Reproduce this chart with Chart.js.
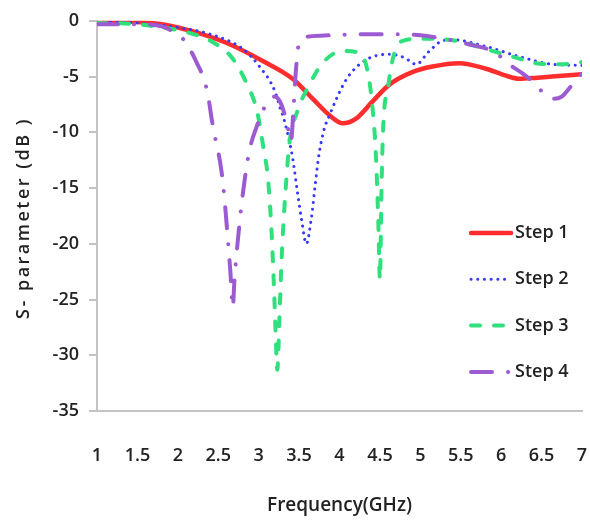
<!DOCTYPE html>
<html>
<head>
<meta charset="utf-8">
<script src="https://cdn.jsdelivr.net/npm/chart.js@4.4.1/dist/chart.umd.min.js"></script>
<style>
  html, body { margin: 0; padding: 0; background: #fff; }
</style>
</head>
<body>
<canvas id="chart" width="590" height="525"></canvas>
<script>
// values (GHz / dB)
const step1Freq = [1, 1.5, 1.8, 2.0, 2.3, 2.64, 3.05, 3.42, 3.67, 3.88, 4.04, 4.2, 4.4, 4.62, 4.9, 5.15, 5.48, 5.81, 6.05, 6.22, 6.45, 6.63, 7.0];
const step1Db   = [0, -0.1, -0.3, -0.6, -1.2, -2.1, -3.6, -5.2, -7.0, -8.5, -9.2, -8.8, -7.3, -5.7, -4.6, -4.1, -3.8, -4.3, -4.9, -5.2, -5.1, -5.0, -4.8];

const step2Freq = [1, 1.5, 2.0, 2.4, 2.8, 3.0, 3.2, 3.26, 3.32, 3.42, 3.48, 3.53, 3.59, 3.65, 3.7, 3.74, 3.8, 3.88, 4.09, 4.33, 4.62, 4.8, 4.95, 5.1, 5.27, 5.4, 5.81, 6.22, 6.63, 7.0];
const step2Db   = [-0.1, -0.2, -0.6, -1.2, -2.5, -4.0, -6.3, -7.7, -9.0, -12.3, -15.4, -17.8, -20.0, -17.8, -14.7, -12.3, -10.0, -8.4, -5.2, -3.5, -3.0, -3.3, -3.9, -2.8, -1.8, -1.7, -2.3, -3.2, -3.9, -4.0];

const step3Freq = [1, 1.5, 1.8, 2.1, 2.43, 2.68, 2.85, 2.98, 3.05, 3.12, 3.16, 3.19, 3.21, 3.23, 3.26, 3.28, 3.3, 3.33, 3.38, 3.48, 3.63, 3.79, 4.04, 4.25, 4.35, 4.41, 4.45, 4.48, 4.5, 4.52, 4.54, 4.6, 4.66, 4.78, 5.02, 5.36, 5.89, 6.18, 6.43, 6.75, 7.0];
const step3Db   = [-0.2, -0.3, -0.6, -1.0, -1.9, -3.4, -5.6, -8.1, -11.0, -14.5, -19.0, -24.0, -28.0, -31.3, -26.0, -22.0, -19.0, -15.5, -11.0, -8.1, -5.7, -3.8, -2.7, -2.9, -4.6, -7.9, -12.0, -18.0, -23.2, -15.0, -9.6, -6.0, -3.4, -1.8, -1.6, -1.7, -2.7, -3.3, -3.8, -3.9, -3.7];

const step4Freq = [1, 1.5, 1.8, 1.9, 2.05, 2.23, 2.36, 2.43, 2.54, 2.58, 2.62, 2.65, 2.68, 2.7, 2.77, 2.83, 2.89, 2.97, 3.1, 3.2, 3.28, 3.35, 3.4, 3.43, 3.46, 3.5, 3.63, 3.88, 4.4, 4.72, 5.0, 5.2, 5.6, 5.94, 6.06, 6.26, 6.38, 6.5, 6.65, 6.75, 6.86, 7.0];
const step4Db   = [-0.3, -0.3, -0.5, -0.8, -1.5, -3.7, -6.2, -9.3, -13.5, -16.2, -19.7, -22.5, -25.7, -23.3, -17.7, -14.1, -11.5, -9.6, -7.4, -6.8, -7.5, -9.2, -10.8, -8.0, -4.5, -2.0, -1.4, -1.3, -1.2, -1.2, -1.3, -1.5, -2.1, -2.9, -3.7, -4.7, -5.4, -6.3, -7.0, -6.8, -5.9, -4.7];

const xTicks = [1, 1.5, 2, 2.5, 3, 3.5, 4, 4.5, 5, 5.5, 6, 6.5, 7];
const yTicks = [0, -5, -10, -15, -20, -25, -30, -35];

const seriesLabels = ['Step 1', 'Step 2', 'Step 3', 'Step 4'];

const FONT = "'Open Sans', sans-serif";
const TEXT = '#222';
const AXIS = '#c4c4c4';

const toPoints = (xs, ys) => xs.map((x, i) => ({ x: x, y: ys[i] }));

// legend drawn inside the plot, like the original
const insideLegend = {
    id: 'insideLegend',
    afterDraw(chart) {
        const ctx = chart.ctx;
        chart.data.datasets.forEach((ds, i) => {
            const y = 233 + i * 46.3;
            ctx.save();
            ctx.strokeStyle = ds.borderColor;
            ctx.lineWidth = ds.borderWidth;
            ctx.lineCap = ds.borderCapStyle || 'butt';
            ctx.setLineDash(ds.borderDash || []);
            ctx.beginPath();
            ctx.moveTo(471, y);
            ctx.lineTo(511, y);
            ctx.stroke();
            ctx.setLineDash([]);
            ctx.fillStyle = TEXT;
            ctx.font = "600 18px " + FONT;
            ctx.textBaseline = 'middle';
            ctx.fillText(ds.label, 515, y);
            ctx.restore();
        });
    }
};

// rotated y title, letter-spaced like the reference
const yTitle = {
    id: 'yTitle',
    afterDraw(chart) {
        const ctx = chart.ctx;
        ctx.save();
        ctx.translate(24, 218);
        ctx.rotate(-Math.PI / 2);
        ctx.font = "600 18px " + FONT;
        ctx.letterSpacing = '2.5px';
        ctx.fillStyle = TEXT;
        ctx.textAlign = 'center';
        ctx.textBaseline = 'middle';
        ctx.fillText('S- parameter (dB )', 0, 0);
        ctx.restore();
    }
};

new Chart(document.getElementById('chart'), {
    type: 'line',
    data: {
        datasets: [
            {
                label: seriesLabels[0],
                data: toPoints(step1Freq, step1Db),
                borderColor: '#ff2d2d',
                borderWidth: 4.5,
                borderCapStyle: 'round',
                order: 4
            },
            {
                label: seriesLabels[1],
                data: toPoints(step2Freq, step2Db),
                borderColor: '#3838ff',
                borderWidth: 3,
                borderDash: [0.1, 6.6],
                borderCapStyle: 'round',
                order: 3
            },
            {
                label: seriesLabels[2],
                data: toPoints(step3Freq, step3Db),
                borderColor: '#2fe07c',
                borderWidth: 4,
                borderDash: [9, 14],
                borderCapStyle: 'round',
                order: 2
            },
            {
                label: seriesLabels[3],
                data: toPoints(step4Freq, step4Db),
                borderColor: '#9d5bd2',
                borderWidth: 4,
                borderDash: [21, 16, 0.1, 16],
                borderCapStyle: 'round',
                order: 1
            }
        ]
    },
    options: {
        responsive: false,
        animation: false,
        layout: { padding: { top: 19, right: 8, left: 0, bottom: 0 } },
        plugins: {
            legend: { display: false },
            tooltip: { enabled: false }
        },
        elements: {
            point: { radius: 0 },
            line: { cubicInterpolationMode: 'monotone', fill: false }
        },
        scales: {
            x: {
                type: 'linear',
                min: 1,
                max: 7,
                afterBuildTicks: s => { s.ticks = xTicks.map(v => ({ value: v })); },
                afterFit: s => {
                    // tick padding is also added sideways by chart.js, undo that
                    s.height = 114;
                    s.paddingLeft = 0;
                    s.paddingRight = 6;
                },
                grid: { display: false, drawTicks: false },
                border: { display: true, color: AXIS, width: 2 },
                ticks: {
                    padding: 34,
                    autoSkip: false,
                    maxRotation: 0,
                    color: TEXT,
                    font: { family: FONT, size: 18, weight: '600' },
                    callback: v => String(v)
                },
                title: {
                    display: true,
                    text: 'Frequency(GHz)',
                    color: TEXT,
                    font: { family: FONT, size: 19, weight: '600' },
                    padding: { top: 0, bottom: 8 }
                }
            },
            y: {
                type: 'linear',
                min: -35,
                max: 0,
                afterBuildTicks: s => { s.ticks = yTicks.map(v => ({ value: v })); },
                afterFit: s => { s.width = 97; },
                grid: { drawOnChartArea: false, drawTicks: true, tickLength: 8, color: AXIS, lineWidth: 2 },
                border: { display: true, color: AXIS, width: 2 },
                ticks: {
                    padding: 10,
                    color: TEXT,
                    font: { family: FONT, size: 18, weight: '600' },
                    callback: v => String(v)
                }
            }
        }
    },
    plugins: [insideLegend, yTitle]
});
</script>
</body>
</html>
